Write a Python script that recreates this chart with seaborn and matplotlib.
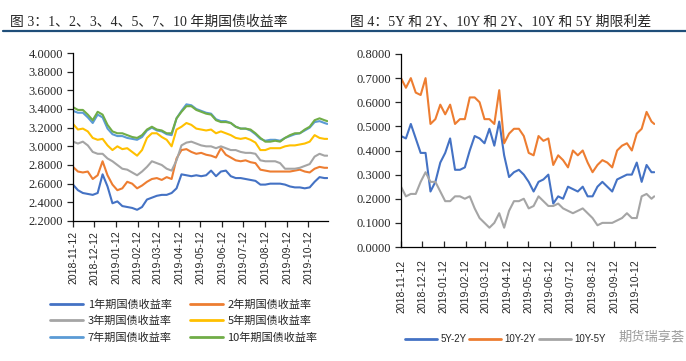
import pandas as pd
import seaborn as sns
import matplotlib.pyplot as plt
from matplotlib.lines import Line2D
from matplotlib.ticker import FormatStrFormatter, MultipleLocator

# weekly observations, last one is 2019-11-08
dates = pd.date_range('2018-11-12', periods=52, freq='7D').append(pd.DatetimeIndex(['2019-11-08']))

y1 = [2.59, 2.53, 2.50, 2.49, 2.48, 2.50, 2.70, 2.57, 2.39, 2.41,
      2.36, 2.35, 2.34, 2.32, 2.35, 2.43, 2.45, 2.47, 2.48, 2.48,
      2.50, 2.55, 2.70, 2.69, 2.68, 2.69, 2.68, 2.69, 2.74, 2.68,
      2.73, 2.74, 2.68, 2.66, 2.66, 2.65, 2.64, 2.63, 2.59, 2.59,
      2.60, 2.60, 2.60, 2.59, 2.57, 2.56, 2.56, 2.55, 2.56, 2.62,
      2.67, 2.66, 2.66]
y2 = [2.78, 2.73, 2.72, 2.73, 2.65, 2.69, 2.84, 2.69, 2.59, 2.53,
      2.55, 2.62, 2.60, 2.55, 2.58, 2.62, 2.65, 2.66, 2.64, 2.67,
      2.65, 2.87, 2.96, 2.97, 2.94, 2.92, 2.93, 2.91, 2.90, 2.88,
      2.98, 2.91, 2.88, 2.85, 2.84, 2.85, 2.83, 2.82, 2.75, 2.74,
      2.73, 2.73, 2.73, 2.73, 2.73, 2.74, 2.75, 2.73, 2.72, 2.76,
      2.78, 2.77, 2.77]
y3 = [3.05, 3.03, 3.05, 3.01, 2.94, 2.92, 2.92, 2.87, 2.84, 2.80,
      2.76, 2.75, 2.72, 2.69, 2.73, 2.78, 2.84, 2.82, 2.80, 2.76,
      2.74, 2.85, 3.01, 3.04, 3.05, 3.03, 3.01, 3.00, 3.00, 2.98,
      3.00, 2.98, 2.96, 2.96, 2.94, 2.93, 2.93, 2.92, 2.85, 2.84,
      2.84, 2.84, 2.82, 2.76, 2.76, 2.76, 2.77, 2.79, 2.81, 2.89,
      2.92, 2.90, 2.90]
y5 = [3.24, 3.18, 3.19, 3.16, 3.09, 3.07, 3.08, 3.01, 2.96, 3.00,
      2.97, 2.98, 2.94, 2.90, 2.96, 3.09, 3.14, 3.14, 3.10, 3.07,
      3.00, 3.18, 3.21, 3.25, 3.23, 3.19, 3.18, 3.17, 3.18, 3.14,
      3.16, 3.14, 3.12, 3.09, 3.08, 3.09, 3.07, 3.04, 2.96, 2.96,
      2.98, 2.98, 2.98, 3.00, 3.01, 3.01, 3.02, 3.03, 3.05, 3.12,
      3.09, 3.08, 3.08]
y7 = [3.38, 3.36, 3.36, 3.31, 3.25, 3.34, 3.31, 3.19, 3.13, 3.11,
      3.11, 3.09, 3.08, 3.07, 3.10, 3.17, 3.20, 3.17, 3.16, 3.13,
      3.12, 3.30, 3.38, 3.45, 3.44, 3.40, 3.38, 3.36, 3.35, 3.29,
      3.27, 3.27, 3.25, 3.21, 3.19, 3.19, 3.17, 3.13, 3.08, 3.06,
      3.07, 3.07, 3.06, 3.09, 3.11, 3.13, 3.14, 3.17, 3.20, 3.26,
      3.27, 3.25, 3.24]
y10 = [3.42, 3.39, 3.39, 3.34, 3.28, 3.37, 3.34, 3.23, 3.16, 3.14,
       3.14, 3.12, 3.10, 3.09, 3.12, 3.18, 3.21, 3.18, 3.17, 3.14,
       3.14, 3.30, 3.37, 3.43, 3.43, 3.39, 3.37, 3.35, 3.34, 3.28,
       3.26, 3.26, 3.25, 3.21, 3.19, 3.19, 3.18, 3.14, 3.09, 3.05,
       3.05, 3.06, 3.05, 3.09, 3.12, 3.14, 3.14, 3.18, 3.21, 3.28,
       3.30, 3.28, 3.27]

s52 = [0.46, 0.45, 0.51, 0.45, 0.39, 0.39, 0.23, 0.27, 0.35, 0.39,
       0.45, 0.32, 0.32, 0.33, 0.40, 0.46, 0.45, 0.43, 0.49, 0.42,
       0.52, 0.38, 0.29, 0.31, 0.32, 0.30, 0.27, 0.23, 0.27, 0.28,
       0.30, 0.18, 0.21, 0.20, 0.25, 0.24, 0.23, 0.25, 0.21, 0.21,
       0.25, 0.27, 0.25, 0.23, 0.28, 0.29, 0.30, 0.30, 0.35, 0.27,
       0.34, 0.31, 0.31]
s102 = [0.70, 0.66, 0.70, 0.64, 0.63, 0.70, 0.51, 0.53, 0.59, 0.55,
        0.59, 0.51, 0.53, 0.53, 0.62, 0.62, 0.60, 0.53, 0.53, 0.51,
        0.65, 0.43, 0.47, 0.49, 0.49, 0.46, 0.39, 0.38, 0.46, 0.44,
        0.45, 0.34, 0.38, 0.36, 0.33, 0.40, 0.38, 0.40, 0.35, 0.31,
        0.34, 0.36, 0.35, 0.33, 0.40, 0.42, 0.43, 0.40, 0.47, 0.49,
        0.56, 0.52, 0.51]
s105 = [0.25, 0.21, 0.22, 0.22, 0.27, 0.31, 0.27, 0.27, 0.23, 0.19,
        0.19, 0.21, 0.21, 0.20, 0.21, 0.16, 0.12, 0.10, 0.08, 0.10,
        0.14, 0.08, 0.15, 0.19, 0.19, 0.20, 0.16, 0.17, 0.21, 0.19,
        0.17, 0.17, 0.18, 0.16, 0.15, 0.14, 0.15, 0.16, 0.14, 0.12,
        0.09, 0.10, 0.10, 0.10, 0.11, 0.12, 0.14, 0.12, 0.12, 0.21,
        0.22, 0.20, 0.21]

left_names = ['1年期国债收益率', '2年期国债收益率', '3年期国债收益率',
              '5年期国债收益率', '7年期国债收益率', '10年期国债收益率']
left_colors = ['#4472C4', '#ED7D31', '#A5A5A5', '#FFC000', '#5B9BD5', '#70AD47']
right_names = ['5Y-2Y', '10Y-2Y', '10Y-5Y']
right_colors = ['#4472C4', '#ED7D31', '#A5A5A5']
tick_dates = pd.to_datetime(['2018-11-12', '2018-12-12', '2019-01-12', '2019-02-12',
                             '2019-03-12', '2019-04-12', '2019-05-12', '2019-06-12',
                             '2019-07-12', '2019-08-12', '2019-09-12', '2019-10-12'])

sns.set_style('ticks')
plt.rcParams['font.family'] = ['Liberation Serif', 'Noto Sans CJK SC']
cjk = ['Noto Sans CJK SC', 'DejaVu Sans']

left_df = pd.DataFrame(dict(zip(left_names, [y1, y2, y3, y5, y7, y10])))
left_df['date'] = dates
left_df = left_df.melt('date', var_name='series', value_name='value')
right_df = pd.DataFrame(dict(zip(right_names, [s52, s102, s105])))
right_df['date'] = dates
right_df = right_df.melt('date', var_name='series', value_name='value')

fig = plt.figure(figsize=(6.86, 3.61), dpi=100)
ax1 = fig.add_axes([73 / 686, 1 - 221 / 361, 255 / 686, 168 / 361])
ax2 = fig.add_axes([401 / 686, 1 - 247 / 361, 254 / 686, 193 / 361])

sns.lineplot(data=left_df, x='date', y='value', hue='series', hue_order=left_names,
             palette=left_colors, linewidth=1.5, ax=ax1, legend=False)
sns.lineplot(data=right_df, x='date', y='value', hue='series', hue_order=right_names,
             palette=right_colors, linewidth=1.5, ax=ax2, legend=False)

xlim = (pd.Timestamp('2018-11-12'), pd.Timestamp('2019-11-09'))
for ax in (ax1, ax2):
    ax.set_xlim(*xlim)
    ax.set_xticks(tick_dates)
    ax.set_xticklabels([d.strftime('%Y-%m-%d') for d in tick_dates], rotation=90,
                       fontsize=7.5, family='Liberation Sans')
    ax.set_xlabel('')
    ax.set_ylabel('')
    sns.despine(ax=ax)
    for sp in ('left', 'bottom'):
        ax.spines[sp].set_linewidth(0.9)
        ax.spines[sp].set_color('black')
    ax.tick_params(axis='y', labelsize=9, length=4, width=0.9, direction='out', pad=3)

ax1.set_ylim(2.2, 4.0)
ax1.yaxis.set_major_locator(MultipleLocator(0.2))
ax1.yaxis.set_major_formatter(FormatStrFormatter('%.4f'))
ax1.tick_params(axis='x', length=4, width=0.9, direction='out', pad=3)

ax2.set_ylim(0, 0.8)
ax2.yaxis.set_major_locator(MultipleLocator(0.1))
ax2.yaxis.set_major_formatter(FormatStrFormatter('%.4f'))
ax2.tick_params(axis='x', length=4, width=0.9, direction='in', pad=9)

# legends (row-major order like the reference)
lh = {n: Line2D([], [], color=c, lw=2) for n, c in zip(left_names, left_colors)}
row_major = [left_names[0], left_names[2], left_names[4],
             left_names[1], left_names[3], left_names[5]]
fig.legend([lh[n] for n in row_major], row_major, loc='center left',
           bbox_to_anchor=(40 / 686, 1 - 321 / 361), ncol=2, frameon=False,
           prop={'family': cjk, 'size': 8}, handlelength=3.0, handletextpad=0.4,
           columnspacing=1.6, labelspacing=0.55)
rh = [Line2D([], [], color=c, lw=2) for c in right_colors]
fig.legend(rh, right_names, loc='center left', bbox_to_anchor=(396 / 686, 1 - 339 / 361),
           ncol=3, frameon=False, prop={'family': 'Liberation Sans', 'size': 7},
           handlelength=3.3, handletextpad=0.35, columnspacing=0.3)

# titles and rule
fig.text(10 / 686, 1 - 22 / 361, '图 3：1、2、3、4、5、7、10 年期国债收益率',
         fontsize=10, va='center', ha='left')
fig.text(350 / 686, 1 - 22 / 361, '图 4：5Y 和 2Y、10Y 和 2Y、10Y 和 5Y 期限利差',
         fontsize=10, va='center', ha='left')
fig.add_artist(Line2D([3 / 686, 1.0], [1 - 31 / 361, 1 - 31 / 361],
                      color='#1F4E79', lw=1.6, transform=fig.transFigure))

# watermark, nudged right so it clears the legend
fig.text(685 / 686, 1 - 337 / 361, '期货瑞享荟', fontsize=9.5, family=cjk,
         color='#8a8a8a', alpha=0.85, va='center', ha='right', zorder=10)

fig.savefig('out.png', dpi=100)
